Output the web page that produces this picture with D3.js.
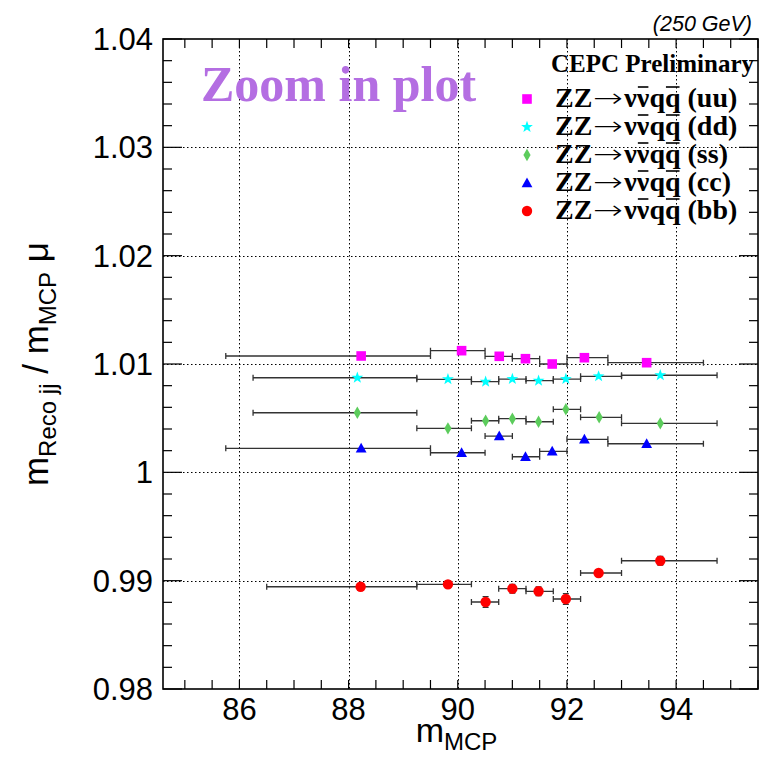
<!DOCTYPE html>
<html>
<head>
<meta charset="utf-8">
<script src="https://cdn.jsdelivr.net/npm/d3@7"></script>
<style>
  html, body { margin: 0; padding: 0; background: #fff; }
  svg { display: block; }
  .sans { font-family: "Liberation Sans", Arial, Helvetica, sans-serif; }
  .serif { font-family: "Liberation Serif", "Times New Roman", serif; font-weight: bold; }
  .arrow { font-family: "DejaVu Sans", sans-serif; font-weight: 200; }
</style>
</head>
<body>
<svg id="chart"></svg>
<script>
/* Zoom-in plot of m_Reco/m_MCP vs m_MCP */

// axis ranges and ticks
const xDomain = [84.6, 95.5];
const yDomain = [0.98, 1.04];
const xTicks = [86, 88, 90, 92, 94];
const xTickLabels = ["86", "88", "90", "92", "94"];
const yTicks = [0.98, 0.99, 1.00, 1.01, 1.02, 1.03, 1.04];
const yTickLabels = ["0.98", "0.99", "1", "1.01", "1.02", "1.03", "1.04"];

// ZZ -> nu nubar q qbar (uu)
const uuEdges = [85.75, 89.5, 90.5, 91.0, 91.5, 92.0, 92.75, 94.5];
const uuX = [88.23, 90.07, 90.76, 91.24, 91.73, 92.32, 93.46];
const uuY = [1.01074, 1.01123, 1.01071, 1.01049, 1.01000, 1.01058, 1.01012];

// (dd)
const ddEdges = [86.25, 89.25, 90.25, 90.75, 91.25, 91.75, 92.25, 93.0, 94.75];
const ddX = [88.16, 89.82, 90.51, 91.00, 91.48, 91.98, 92.58, 93.71];
const ddY = [1.00873, 1.00859, 1.00837, 1.00861, 1.00846, 1.00861, 1.00886, 1.00896];

// (ss)
const ssEdges = [86.25, 89.25, 90.25, 90.75, 91.25, 91.75, 92.25, 93.0, 94.75];
const ssX = [88.16, 89.82, 90.51, 91.00, 91.48, 91.98, 92.59, 93.71];
const ssY = [1.00550, 1.00406, 1.00476, 1.00495, 1.00467, 1.00582, 1.00508, 1.00452];

// (cc)
const ccEdges = [85.75, 89.5, 90.5, 91.0, 91.5, 92.0, 92.75, 94.5];
const ccX = [88.23, 90.07, 90.76, 91.24, 91.73, 92.32, 93.46];
const ccY = [1.00222, 1.00181, 1.00335, 1.00144, 1.00194, 1.00305, 1.00264];

// (bb)
const bbEdges = [86.5, 89.25, 90.25, 90.75, 91.25, 91.75, 92.25, 93.0, 94.75];
const bbX = [88.22, 89.82, 90.51, 91.00, 91.48, 91.98, 92.58, 93.71];
const bbY = [0.98944, 0.98966, 0.98803, 0.98926, 0.98902, 0.98831, 0.99071, 0.99184];
const bbYErr = [0.0003, 0.0003, 0.0005, 0.0004, 0.0004, 0.0005, 0.0003, 0.0004];

const seriesNames = ["uu", "dd", "ss", "cc", "bb"];
const seriesColors = ["#ff00ff", "#00ffff", "#5ccc5c", "#0000ff", "#ff0000"];
const seriesMarkers = ["square", "star", "diamond", "triangle", "circle"];

let width = 764, height = 768;
let margin = { top: 39, right: 6, bottom: 79, left: 163 };

let svg = d3.select("#chart").attr("width", width).attr("height", height);

let x = d3.scaleLinear().domain(xDomain).range([margin.left, width - margin.right]);
let y = d3.scaleLinear().domain(yDomain).range([height - margin.bottom, margin.top]);

const x0 = margin.left, x1 = width - margin.right;
const y0 = height - margin.bottom, y1 = margin.top;

// marker paths centred on 0,0
markerPath = (type) => {
    if (type === "square") return "M-4.8,-4.8H4.8V4.8H-4.8Z";
    if (type === "diamond") return "M0,-6.2L3.6,0L0,6.2L-3.6,0Z";
    if (type === "triangle") return "M0,-5.6L5.4,4.2H-5.4Z";
    if (type === "circle") return "M5.2,0A5.2,5.2 0 1,1 -5.2,0A5.2,5.2 0 1,1 5.2,0Z";
    // star
    let pts = [];
    for (let i = 0; i < 10; i++) {
        let r = i % 2 === 0 ? 6.2 : 2.5;
        let a = -Math.PI / 2 + i * Math.PI / 5;
        pts.push([r * Math.cos(a), r * Math.sin(a)]);
    }
    return "M" + pts.map(p => p[0].toFixed(2) + "," + p[1].toFixed(2)).join("L") + "Z";
};

// grid
let grid = svg.append("g")
    .attr("stroke", "#000")
    .attr("stroke-width", 1)
    .attr("stroke-dasharray", "1.5,2.5");
grid.selectAll("line.gx").data(xTicks).join("line")
    .attr("x1", d => Math.round(x(d)) + 0.5).attr("x2", d => Math.round(x(d)) + 0.5)
    .attr("y1", y1).attr("y2", y0);
grid.selectAll("line.gy").data(yTicks.slice(1, -1)).join("line")
    .attr("y1", d => Math.round(y(d)) + 0.5).attr("y2", d => Math.round(y(d)) + 0.5)
    .attr("x1", x0).attr("x2", x1);

// ticks on all four sides
let xMinor = d3.range(85, 95.51, 0.5);
let yMinor = d3.range(0, 31).map(i => yDomain[0] + i * 0.002);
let ticks = svg.append("g").attr("stroke", "#000").attr("stroke-width", 1.2);
ticks.selectAll("line.bx").data(xMinor).join("line")
    .attr("x1", d => x(d)).attr("x2", d => x(d))
    .attr("y1", y0).attr("y2", y0 - 9);
ticks.selectAll("line.tx").data(xMinor).join("line")
    .attr("x1", d => x(d)).attr("x2", d => x(d))
    .attr("y1", y1).attr("y2", y1 + 9);
let yTickLen = d => (Math.abs(Math.round(d * 1000) % 10) === 0 ? 19 : 9);
ticks.selectAll("line.ly").data(yMinor).join("line")
    .attr("y1", d => y(d)).attr("y2", d => y(d))
    .attr("x1", x0).attr("x2", d => x0 + yTickLen(d));
ticks.selectAll("line.ry").data(yMinor).join("line")
    .attr("y1", d => y(d)).attr("y2", d => y(d))
    .attr("x1", x1).attr("x2", d => x1 - yTickLen(d));

// frame
svg.append("rect")
    .attr("x", x0).attr("y", y1)
    .attr("width", x1 - x0).attr("height", y0 - y1)
    .attr("fill", "none").attr("stroke", "#000").attr("stroke-width", 1.6);

// tick labels
svg.append("g").attr("class", "sans").attr("font-size", 31)
    .selectAll("text").data(xTicks).join("text")
    .attr("x", d => x(d)).attr("y", y0 + 31)
    .attr("text-anchor", "middle")
    .text((d, i) => xTickLabels[i]);
svg.append("g").attr("class", "sans").attr("font-size", 31)
    .selectAll("text").data(yTicks).join("text")
    .attr("x", x0 - 10).attr("y", d => y(d) + 11)
    .attr("text-anchor", "end")
    .text((d, i) => yTickLabels[i]);

// axis titles
let xt = svg.append("text").attr("class", "sans").attr("font-size", 34)
    .attr("x", (x0 + x1) / 2 - 4).attr("y", 742).attr("text-anchor", "middle");
xt.append("tspan").text("m");
xt.append("tspan").attr("font-size", 24).attr("dy", 8).text("MCP");

let yt = svg.append("text").attr("class", "sans").attr("font-size", 35)
    .attr("transform", `translate(48,${(y0 + y1) / 2}) rotate(-90)`)
    .attr("text-anchor", "middle");
yt.append("tspan").text("m");
yt.append("tspan").attr("font-size", 24).attr("dy", 8).text("Reco jj");
yt.append("tspan").attr("dy", -8).text(" / m");
yt.append("tspan").attr("font-size", 24).attr("dy", 8).text("MCP");
yt.append("tspan").attr("dy", -8).text(" \u03bc");

// data points with bin-width x errors
const seriesData = [
    [uuEdges, uuX, uuY, null],
    [ddEdges, ddX, ddY, null],
    [ssEdges, ssX, ssY, null],
    [ccEdges, ccX, ccY, null],
    [bbEdges, bbX, bbY, bbYErr]
];

seriesData.forEach(([edges, xs, ys, yerr], k) => {
    let pts = xs.map((v, i) => ({ x: v, y: ys[i], lo: edges[i], hi: edges[i + 1], ey: yerr ? yerr[i] : 0 }));
    let g = svg.append("g");
    let eb = g.append("g").attr("stroke", "#333").attr("stroke-width", 1.3).attr("fill", "none");
    eb.selectAll("path.h").data(pts).join("path")
        .attr("d", d => {
            let a = x(d.lo), b = x(d.hi), c = y(d.y);
            return `M${a},${c}H${b}M${a},${c - 3}V${c + 3}M${b},${c - 3}V${c + 3}`;
        });
    eb.selectAll("path.v").data(pts.filter(d => d.ey > 0)).join("path")
        .attr("d", d => {
            let c = x(d.x), a = y(d.y - d.ey), b = y(d.y + d.ey);
            return `M${c},${a}V${b}M${c - 3},${a}H${c + 3}M${c - 3},${b}H${c + 3}`;
        });
    g.selectAll("path.m").data(pts).join("path")
        .attr("d", markerPath(seriesMarkers[k]))
        .attr("transform", d => `translate(${x(d.x)},${y(d.y)})`)
        .attr("fill", seriesColors[k]);
});

// texts
svg.append("text").attr("class", "sans")
    .attr("font-size", 21.5).attr("font-style", "italic")
    .attr("x", 752).attr("y", 31).attr("text-anchor", "end")
    .text("(250 GeV)");

svg.append("text").attr("class", "serif")
    .attr("font-size", 50).attr("fill", "#b46ee2")
    .attr("x", 201).attr("y", 101)
    .text("Zoom in plot");

svg.append("text").attr("class", "serif")
    .attr("font-size", 25)
    .attr("x", 551).attr("y", 72)
    .text("CEPC Preliminary");

// legend
let legend = svg.append("g");
seriesNames.forEach((name, k) => {
    let cy = 99 + k * 28;
    legend.append("path")
        .attr("d", markerPath(seriesMarkers[k]))
        .attr("transform", `translate(527,${cy})`)
        .attr("fill", seriesColors[k]);
    let t = legend.append("text").attr("class", "serif")
        .attr("font-size", 28)
        .attr("x", 555).attr("y", cy + 8);
    t.append("tspan").text("ZZ");
    t.append("tspan").attr("class", "arrow").attr("font-size", 26)
        .attr("dx", 1).attr("textLength", 30).attr("lengthAdjust", "spacingAndGlyphs")
        .text("\u2192");
    t.append("tspan").attr("dx", 1).text("\u03bd\u03bdqq (" + name + ")");
    // bars over the second nu and the second q
    [4, 6].forEach(ci => {
        let box = t.node().getExtentOfChar(ci);
        legend.append("line")
            .attr("x1", box.x + 1).attr("x2", box.x + box.width - 1)
            .attr("y1", cy - 12).attr("y2", cy - 12)
            .attr("stroke", "#000").attr("stroke-width", 1.6);
    });
});
</script>
</body>
</html>
